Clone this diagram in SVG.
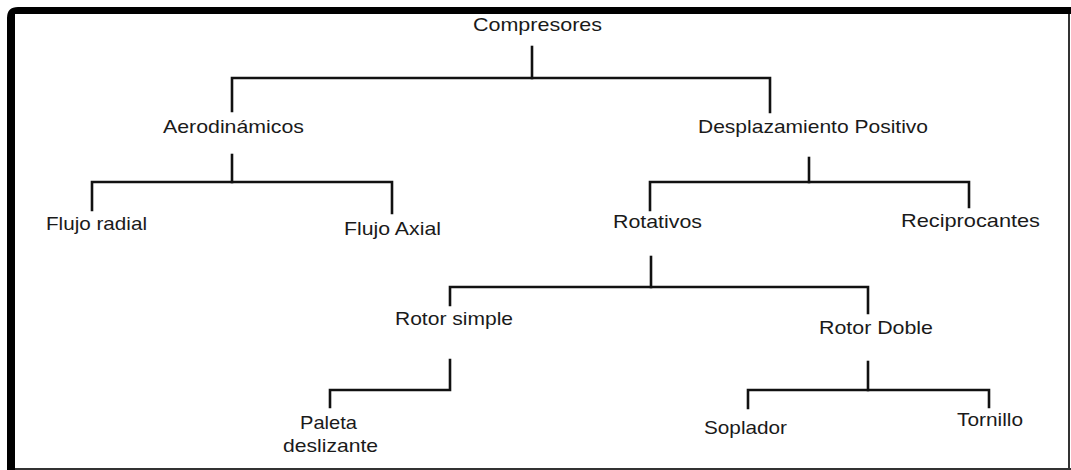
<svg xmlns="http://www.w3.org/2000/svg" width="1071" height="470" viewBox="0 0 1071 470">
  <style>
    .lbl { font-family: "Liberation Sans", Arial, sans-serif; font-size: 18.5px; fill: #1a1a1a; }
    .wire { fill: none; stroke: #111; stroke-width: 2.6; stroke-linecap: square; stroke-linejoin: miter; }
  </style>
  <rect x="0" y="0" width="1071" height="470" fill="#ffffff"/>

  <!-- frame: heavy top/left edges, thin right/bottom edges -->
  <g id="frame">
    <path d="M7,470 V18 Q7,7 18,7 H1071 V14 H15 V470 Z" fill="#000"/>
    <line x1="1069" y1="14" x2="1069" y2="470" stroke="#333" stroke-width="2"/>
    <line x1="15" y1="469" x2="1071" y2="469" stroke="#333" stroke-width="2"/>
  </g>

  <!-- tree connectors -->
  <g id="connectors" class="wire">
    <path d="M532,47 V78"/>
    <path d="M232,111 V78 H770 V112"/>
    <path d="M232,155 V182"/>
    <path d="M92,210 V182 H392 V213"/>
    <path d="M809,158 V182"/>
    <path d="M650,210 V182 H969 V207"/>
    <path d="M651,257 V287"/>
    <path d="M450,305 V287 H868 V313"/>
    <path d="M450,360 V390 H330 V407"/>
    <path d="M868,362 V390"/>
    <path d="M748,408 V390 H989 V407"/>
  </g>

  <g id="n-compresores"><text class="lbl" x="473" y="31" textLength="129" lengthAdjust="spacingAndGlyphs">Compresores</text></g>
  <g id="n-aerodinamicos"><text class="lbl" x="163" y="133" textLength="141" lengthAdjust="spacingAndGlyphs">Aerodinámicos</text></g>
  <g id="n-desplazamiento"><text class="lbl" x="698" y="133" textLength="230" lengthAdjust="spacingAndGlyphs">Desplazamiento Positivo</text></g>
  <g id="n-flujo-radial"><text class="lbl" x="46" y="230" textLength="101" lengthAdjust="spacingAndGlyphs">Flujo radial</text></g>
  <g id="n-flujo-axial"><text class="lbl" x="344" y="235" textLength="97" lengthAdjust="spacingAndGlyphs">Flujo Axial</text></g>
  <g id="n-rotativos"><text class="lbl" x="613" y="228" textLength="89" lengthAdjust="spacingAndGlyphs">Rotativos</text></g>
  <g id="n-reciprocantes"><text class="lbl" x="901" y="227" textLength="139" lengthAdjust="spacingAndGlyphs">Reciprocantes</text></g>
  <g id="n-rotor-simple"><text class="lbl" x="395" y="325" textLength="118" lengthAdjust="spacingAndGlyphs">Rotor simple</text></g>
  <g id="n-rotor-doble"><text class="lbl" x="819" y="334" textLength="114" lengthAdjust="spacingAndGlyphs">Rotor Doble</text></g>
  <g id="n-paleta">
    <text class="lbl" x="300" y="429" textLength="57" lengthAdjust="spacingAndGlyphs">Paleta</text>
    <text class="lbl" x="283" y="452" textLength="95" lengthAdjust="spacingAndGlyphs">deslizante</text>
  </g>
  <g id="n-soplador"><text class="lbl" x="704" y="434" textLength="83" lengthAdjust="spacingAndGlyphs">Soplador</text></g>
  <g id="n-tornillo"><text class="lbl" x="957" y="426" textLength="66" lengthAdjust="spacingAndGlyphs">Tornillo</text></g>
</svg>
